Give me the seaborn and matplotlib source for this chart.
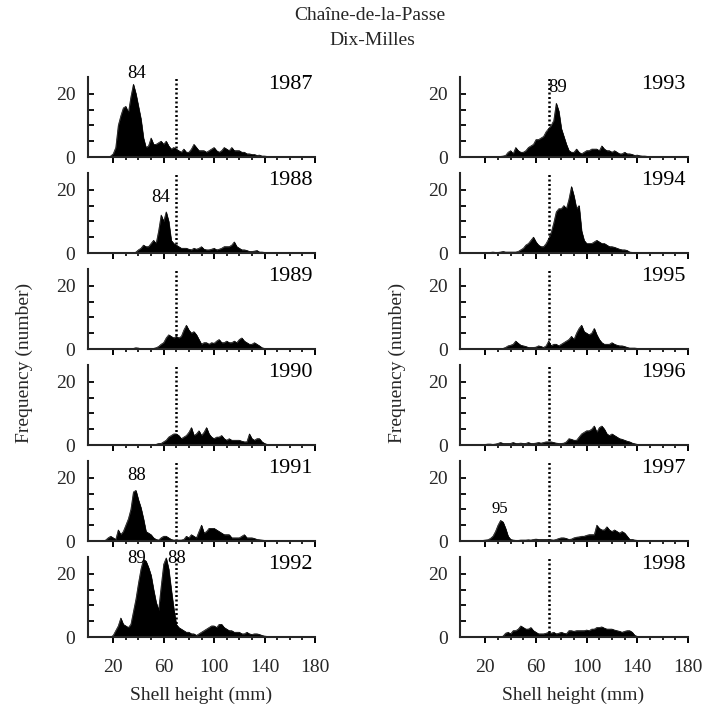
import numpy as np
import pandas as pd
import matplotlib
matplotlib.use("Agg")
import matplotlib.pyplot as plt
import seaborn as sns

# ---------------- data ----------------
shell_height = list(range(10, 162, 2))  # mm, class midpoints

f1987 = [0, 0, 0, 0, 0.3, 1, 3, 10, 13, 15.5,
         16, 14, 19, 23, 20, 16, 12, 6, 3, 3.5,
         6, 4, 4, 4.5, 5, 4, 5, 3.5, 2.5, 3,
         2.5, 2, 1.5, 2.5, 1.5, 1.5, 2.5, 4, 3, 2,
         2, 2, 1.5, 2, 2.5, 3, 2, 1.5, 2, 3,
         2.5, 2, 3, 2, 2, 2, 1.5, 1.5, 1, 1,
         0.8, 0.8, 0.5, 0.6, 0.3, 0.3, 0.2, 0.2, 0.2, 0.2,
         0.1, 0.1, 0.1, 0, 0, 0]
f1988 = [0, 0, 0, 0, 0, 0, 0, 0, 0, 0,
         0, 0, 0, 0, 0.3, 1, 1.5, 2.5, 2, 2,
         3, 4, 3, 7, 12, 10, 13, 10, 4, 3,
         2.5, 2, 1.5, 1.5, 1.5, 1.2, 1, 1.5, 1.2, 1.5,
         2, 1.2, 1, 1, 1.2, 1.5, 1, 1.2, 1.5, 2,
         2, 2, 2.5, 3.5, 2, 1.5, 1, 1, 0.8, 0.5,
         0.5, 0.6, 0.8, 0.3, 0.3, 0.2, 0.2, 0.2, 0.1, 0,
         0, 0, 0, 0, 0, 0]
f1989 = [0, 0, 0, 0, 0, 0, 0, 0, 0, 0,
         0, 0, 0, 0.2, 0.4, 0.3, 0.1, 0.1, 0.1, 0.1,
         0.1, 0.2, 0.4, 0.8, 1.5, 2, 3.5, 4.5, 4, 3.5,
         4, 3.5, 4, 6, 7.5, 6, 5, 5.5, 4.5, 3,
         1.5, 2, 2, 1.5, 2, 1.8, 2.5, 3, 2, 2,
         2.5, 2, 2, 2.5, 2, 3, 3.5, 2.5, 2, 1.5,
         1.5, 2, 1.5, 1, 0.4, 0.2, 0, 0, 0, 0,
         0, 0, 0, 0, 0, 0]
f1990 = [0, 0, 0, 0, 0, 0, 0, 0, 0, 0,
         0, 0, 0, 0, 0, 0, 0, 0, 0, 0,
         0, 0, 0.2, 0.5, 0.5, 1, 1.5, 2.5, 3, 3.5,
         3.5, 3, 2, 2.5, 3, 4, 5.5, 3, 3.5, 4.5,
         3, 4, 5.5, 3.5, 2.5, 2, 2.5, 2.5, 3, 2,
         1.5, 2, 1.5, 1.5, 1.5, 1.5, 1.2, 1, 1, 3.5,
         2, 1.5, 2, 2, 1, 0.5, 0.2, 0, 0, 0,
         0, 0, 0, 0, 0, 0]
f1991 = [0, 0, 0.3, 1, 1.5, 1, 0.5, 3.5, 2, 3,
         5, 7, 10, 15.5, 16, 13, 10.5, 7, 3, 2.5,
         2, 1, 0.5, 0.3, 1, 1.5, 1.5, 1, 0.5, 0.3,
         0.3, 0.3, 0.3, 0.5, 1.5, 1, 2, 1.5, 1, 3,
         5, 2.5, 3, 4, 4, 4, 3.5, 3, 2.5, 2,
         2, 2, 1, 1, 1, 1, 1.5, 2, 1, 1,
         1, 0.8, 0.5, 0.4, 0.3, 0.2, 0, 0, 0, 0,
         0, 0, 0, 0, 0, 0]
f1992 = [0, 0, 0, 0, 0, 0.5, 2, 3.5, 6, 4,
         3.5, 3, 4, 8, 12, 17, 21.5, 24.5, 24, 22,
         19.5, 15, 11, 8.5, 16, 23, 25, 21.5, 15, 9,
         4, 3, 2.5, 2, 1.5, 1.5, 1, 1, 0.5, 1,
         1.5, 2, 2.5, 3, 3.5, 3.5, 3, 4, 4, 3,
         2.5, 2, 2, 1.5, 1.5, 1.5, 1, 1, 1.5, 1,
         0.8, 1, 1, 0.8, 0.5, 0.3, 0.2, 0.1, 0, 0,
         0, 0, 0, 0, 0, 0]
f1993 = [0, 0, 0, 0, 0.1, 0.2, 0.2, 0.2, 0.2, 0.2,
         0.2, 0.2, 0.3, 0.5, 1.5, 2, 1, 3, 2, 1.5,
         1.5, 2, 3, 3.5, 4, 5.5, 5.5, 6, 6.5, 8,
         9, 10, 11.5, 17, 14.5, 9, 6.5, 4, 2, 1.5,
         1.5, 2.5, 1.5, 1, 1.5, 2, 2, 2.5, 2.5, 2.5,
         2, 3.5, 2.5, 2, 2, 1.5, 2, 1.5, 1, 1,
         1.5, 1, 1, 0.8, 0.5, 0.6, 0.4, 0.3, 0.3, 0.2,
         0.2, 0.1, 0, 0, 0, 0]
f1994 = [0, 0, 0, 0, 0, 0, 0, 0.2, 0.3, 0.2,
         0.2, 0.3, 0.5, 0.3, 0.3, 0.3, 0.3, 0.3, 0.5, 1,
         1.5, 2.5, 3, 4, 5, 3.5, 2.5, 2, 2, 3,
         4.5, 6.5, 9.5, 13, 14, 14, 15, 14, 17, 21,
         18, 14, 15, 7, 4, 3, 3, 3, 3.5, 4,
         3.5, 3, 3, 2.5, 2, 2, 1.8, 1.5, 1.2, 1,
         1, 0.8, 0.3, 0.2, 0.2, 0.1, 0.1, 0, 0, 0,
         0, 0, 0, 0, 0, 0]
f1995 = [0, 0, 0, 0.1, 0.2, 0.2, 0.2, 0.2, 0.2, 0.2,
         0.2, 0.2, 0.2, 0.5, 1, 1.2, 1.5, 2.5, 1.8, 1.2,
         1, 0.8, 0.5, 0.5, 0.5, 0.6, 1, 0.8, 0.5, 1,
         2.5, 1, 1.5, 1.5, 1, 1.5, 2, 2.5, 3, 4,
         3, 5, 6.5, 7.5, 5.5, 5, 4.5, 5, 6.5, 4.5,
         3, 2, 1.5, 1.5, 1.5, 2, 1.5, 1.2, 1, 1,
         0.8, 0.5, 0.3, 0.3, 0.3, 0.2, 0.1, 0, 0, 0,
         0, 0, 0, 0, 0, 0]
f1996 = [0, 0, 0, 0, 0, 0.2, 0.3, 0.3, 0.2, 0.3,
         0.5, 0.8, 0.5, 0.5, 0.5, 0.5, 0.8, 0.5, 0.5, 0.6,
         0.5, 0.5, 0.8, 0.5, 0.5, 0.6, 0.8, 0.6, 0.8, 1,
         1, 1, 0.8, 0.6, 0.5, 0.5, 0.6, 1, 2, 1.8,
         1.5, 1.5, 2.5, 3.5, 4, 4.5, 4.5, 5, 6, 4,
         5.5, 6, 5, 3.5, 3, 3.5, 3, 2.5, 2, 1.8,
         1.5, 1.2, 1, 0.6, 0.4, 0.2, 0.1, 0, 0, 0,
         0, 0, 0, 0, 0, 0]
f1997 = [0, 0, 0, 0, 0.2, 0.3, 0.4, 0.8, 1.5, 3,
         5, 6.5, 6, 4, 1.5, 0.5, 0.3, 0.2, 0.2, 0.3,
         0.3, 0.3, 0.4, 0.3, 0.5, 0.6, 0.5, 0.5, 0.5, 0.5,
         0.5, 0.4, 0.3, 0.5, 0.8, 1, 1, 0.8, 0.5, 0.6,
         1, 1.2, 1.3, 1.5, 1.5, 1.8, 2, 2, 2, 5,
         4, 3.5, 3.5, 4.5, 3.5, 3, 3.5, 3, 2.5, 3,
         2.5, 1.5, 0.5, 0.5, 0.3, 0.2, 0.2, 0.1, 0, 0,
         0, 0, 0, 0, 0, 0]
f1998 = [0, 0, 0, 0, 0, 0, 0, 0, 0, 0,
         0, 0, 0.3, 1.2, 1.5, 1, 2, 2, 2.5, 3.5,
         3, 2.5, 2.5, 3, 2, 1.5, 1, 1, 1, 1.2,
         1.5, 1.2, 1.5, 1, 1.2, 1.5, 1.2, 1, 2, 2,
         1.8, 2, 2, 2, 2, 2.2, 2, 2.5, 2.5, 3,
         3, 3.2, 2.8, 2.5, 2.5, 2.5, 2.2, 2, 1.8, 1.5,
         1.8, 2, 2, 1.5, 0.5, 0.2, 0, 0, 0, 0,
         0, 0, 0, 0, 0, 0]

left_years = ["1987", "1988", "1989", "1990", "1991", "1992"]
right_years = ["1993", "1994", "1995", "1996", "1997", "1998"]
series = {"1987": f1987, "1988": f1988, "1989": f1989, "1990": f1990,
          "1991": f1991, "1992": f1992, "1993": f1993, "1994": f1994,
          "1995": f1995, "1996": f1996, "1997": f1997, "1998": f1998}

# cohort labels: year -> list of (shell height, frequency, text)
cohort_labels = {
    "1987": [(38.4, 26.3, "84")],
    "1988": [(57.5, 17.4, "84")],
    "1991": [(38.4, 20.7, "88")],
    "1992": [(38.4, 24.7, "89"), (70.0, 24.7, "88")],
    "1993": [(77.0, 21.9, "89")],
    "1997": [(31.4, 10.2, "95")],
}
cutoff_height = 70

x_major = [20, 60, 100, 140, 180]
x_minor = [30, 40, 50, 70, 80, 90, 110, 120, 130, 150, 160, 170]
y_major = [0, 20]
y_minor = [5, 10, 15]

for k, v in series.items():
    assert len(v) == len(shell_height), (k, len(v))

rows = []
for yr, vals in series.items():
    for h, f in zip(shell_height, vals):
        rows.append({"year": yr, "height": h, "freq": f})
df = pd.DataFrame(rows)

# ---------------- style ----------------
sns.set_theme(style="ticks")
plt.rcParams["font.family"] = ["Liberation Serif", "DejaVu Serif"]
plt.rcParams["axes.linewidth"] = 1.5

W, H = 705, 708
fig = plt.figure(figsize=(W / 100, H / 100), dpi=100)

bottoms = [157, 253, 349, 445, 541, 637]
cols = [(88, 227, left_years), (460, 228, right_years)]
ax_h = 80

for x0, wpx, years in cols:
    for i, yr in enumerate(years):
        ax = fig.add_axes([x0 / W, (H - bottoms[i]) / H, wpx / W, ax_h / H])
        ax.set_facecolor("none")
        d = df[df["year"] == yr]
        ax.fill_between(d["height"], d["freq"], 0, facecolor="black",
                        edgecolor="black", lw=0.4)
        sns.lineplot(data=d, x="height", y="freq", ax=ax, color="black",
                     lw=0.5, legend=False)
        ax.vlines(cutoff_height, 0, 25.3, colors="black", lw=1.8,
                  linestyles=(0, (0.8, 1.0)))
        ax.set_xlim(0, 180)
        ax.set_ylim(0, 25.3)
        sns.despine(ax=ax)
        ax.set_xticks(x_major)
        ax.set_xticks(x_minor, minor=True)
        ax.set_yticks(y_major)
        ax.set_yticks(y_minor, minor=True)
        ax.set_xlabel("")
        ax.set_ylabel("")
        ax.tick_params(axis="x", which="major", direction="out", length=4,
                       width=1.4, labelsize=14, pad=11.5, color="black")
        ax.tick_params(axis="x", which="minor", direction="out", length=2.5,
                       width=1.2, color="black")
        ax.tick_params(axis="y", which="both", direction="in", length=4,
                       width=1.3, labelsize=14, pad=9, color="black")
        if i < len(years) - 1:
            ax.tick_params(axis="x", labelbottom=False)
        ax.text(0.99, 1.02, yr, transform=ax.transAxes, ha="right", va="top",
                fontsize=16, color="black")
        for (hx, hy, txt) in cohort_labels.get(yr, []):
            ax.text(hx, hy, txt, ha="center", va="center",
                    fontsize=12 if txt == "95" and yr == "1997" else 13.5,
                    color="black", clip_on=False)

# figure-level texts
fig.text(370 / W, 1 - 20 / H, "Chaîne-de-la-Passe", ha="center",
         va="baseline", fontsize=14)
fig.text(372 / W, 1 - 45 / H, "Dix-Milles", ha="center", va="baseline",
         fontsize=14)
fig.text(24 / W, 1 - 363 / H, "Frequency (number)", rotation=90,
         ha="center", va="center", fontsize=14)
fig.text(397 / W, 1 - 363 / H, "Frequency (number)", rotation=90,
         ha="center", va="center", fontsize=14)
fig.text(201.5 / W, 1 - 700 / H, "Shell height (mm)", ha="center",
         va="baseline", fontsize=14)
fig.text(573.5 / W, 1 - 700 / H, "Shell height (mm)", ha="center",
         va="baseline", fontsize=14)

fig.savefig("out.png", dpi=100)
